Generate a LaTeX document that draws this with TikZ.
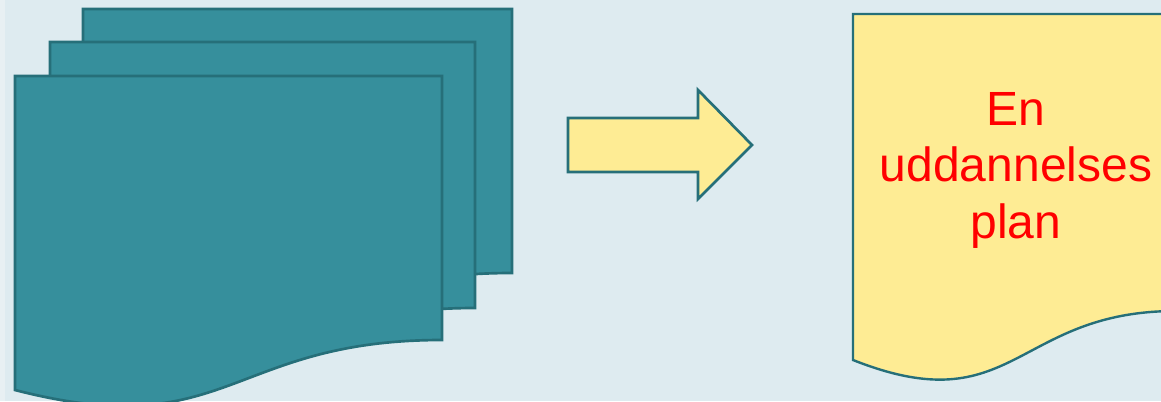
\documentclass[tikz,border=0pt]{standalone}
\usepackage{fontspec}
\setmainfont{Liberation Sans}
\definecolor{bgc}{HTML}{DEEBF0}
\definecolor{stripc}{HTML}{E8F0F3}
\definecolor{tealfill}{HTML}{368F9C}
\definecolor{tealline}{HTML}{266F79}
\definecolor{yelfill}{HTML}{FEEC94}
\definecolor{txtred}{HTML}{FF0000}
\tikzset{
  docteal/.style={fill=tealfill, draw=tealline, line width=2pt, line join=miter},
  docyel/.style={fill=yelfill, draw=tealline, line width=1.8pt, line join=miter},
  arrowshape/.style={fill=yelfill, draw=tealline, line width=2pt, line join=miter},
  lbl/.style={text=txtred, font=\fontsize{36}{42}\selectfont, anchor=base, inner sep=0pt}
}
\begin{document}
\begin{tikzpicture}[x=0.75pt, y=-0.75pt]
\useasboundingbox (0,0) rectangle (1161,401);
\fill[bgc] (0,0) rectangle (1161,401);
\fill[stripc] (0,0) rectangle (5,401);
\begin{scope}
\clip (0,0) rectangle (1161,401);
% back document
\path[docteal] (83,9) -- (512,9) -- (512,273)
  .. controls (297.5,273) and (297.5,373) .. (83,316) -- cycle;
% middle document
\path[docteal] (50,42) -- (475,42) -- (475,308)
  .. controls (262.5,308) and (262.5,410) .. (50,352) -- cycle;
% front document
\path[docteal] (15,76) -- (442,76) -- (442,340)
  .. controls (228.5,340) and (228.5,445) .. (15,390) -- cycle;
% arrow
\path[arrowshape] (568,118) -- (698,118) -- (698,90) -- (752,145)
  -- (698,199) -- (698,172) -- (568,172) -- cycle;
% result document
\path[docyel] (853,14) -- (1176,14) -- (1176,311)
  .. controls (1014.5,311) and (1014.5,424) .. (853,360) -- cycle;
\end{scope}
\node[lbl] (t1) at (1016,125) {En};
\node[lbl] (t2) at (1016,181) {uddannelses};
\node[lbl] (t3) at (1016,238) {plan};
\end{tikzpicture}
\end{document}
